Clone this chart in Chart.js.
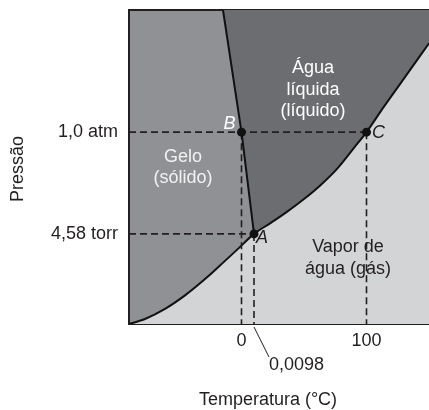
<!DOCTYPE html>
<html>
<head>
<meta charset="utf-8">
<script src="https://cdn.jsdelivr.net/npm/chart.js@4"></script>
<style>
  html, body { margin: 0; padding: 0; background: #fff; }
  #wrap { width: 429px; height: 410px; }
</style>
</head>
<body>
<div id="wrap"><canvas id="myChart"></canvas></div>
<script>
// schematic phase diagram of water - the axes are not to scale
var tempMin = -90, tempMax = 150;
var pressMin = 0, pressMax = 100;

var tempTicks = [0, 100];
var tempLabels = ['0', '100'];
var pressTicks = [28.7, 61.1];
var pressLabels = ['4,58 torr', '1,0 atm'];

var pointNames = ['A', 'B', 'C'];
var pointTemp = [10, 0, 100];
var pointPress = [28.7, 61.1, 61.1];
var triplePointLabel = '0,0098';

// solid / liquid boundary
var fusionTemp = [-14.8, 0, 10];
var fusionPress = [100, 61.1, 28.7];

// solid / vapour boundary
var sublimationTemp = [-90, -77.2, -61.2, -45.2, -29.2, -13.2, -2.6, 10];
var sublimationPress = [0, 1.6, 4.8, 9.1, 14.3, 20.1, 24.0, 28.7];

// liquid / vapour boundary
var vaporTemp = [10, 23.4, 36.6, 50, 63.4, 76.6, 90, 100, 113.4, 126.8, 150];
var vaporPress = [28.7, 32.2, 35.8, 39.8, 44.3, 49.5, 56.1, 61.1, 68.9, 76.4, 89.4];

var regionNames = [['Água', 'líquida', '(líquido)'], ['Gelo', '(sólido)'], ['Vapor de', 'água (gás)']];
var regionTemp = [57.2, -46.8, 85.2];
var regionPress = [81.5, 53.2, 24.5];

var SOLID = '#909195', LIQUID = '#6c6d71', VAPOR = '#d3d4d6', INK = '#231f20';
var FONT = '"Liberation Sans", Arial, sans-serif';

function toPoints(xs, ys) {
  return xs.map(function(x, i) { return { x: x, y: ys[i] }; });
}

var curveTemp = sublimationTemp.concat(vaporTemp.slice(1));
var curvePress = sublimationPress.concat(vaporPress.slice(1));

var dashed = [
  [{ x: tempMin, y: pointPress[1] }, { x: pointTemp[2], y: pointPress[2] }],
  [{ x: tempMin, y: pointPress[0] }, { x: pointTemp[0], y: pointPress[0] }]
];
pointTemp.forEach(function(t, i) {
  dashed.push([{ x: t, y: pointPress[i] }, { x: t, y: pressMin }]);
});

var datasets = [
  { data: toPoints(fusionTemp, fusionPress), fill: 'end', backgroundColor: LIQUID, borderWidth: 0, pointRadius: 0, order: 20 },
  { data: toPoints(vaporTemp, vaporPress), fill: 'end', backgroundColor: LIQUID, borderWidth: 0, pointRadius: 0, cubicInterpolationMode: 'monotone', order: 19 },
  { data: toPoints(curveTemp, curvePress), fill: 'start', backgroundColor: VAPOR, borderColor: '#111', borderWidth: 2, pointRadius: 0, cubicInterpolationMode: 'monotone', order: 18 }
];
dashed.forEach(function(d) {
  datasets.push({ data: d, fill: false, borderColor: INK, borderWidth: 1.6, borderDash: [7, 4], pointRadius: 0, order: 10 });
});
datasets.push({ data: toPoints(fusionTemp, fusionPress), fill: false, borderColor: '#111', borderWidth: 2, pointRadius: 0, order: 5 });
datasets.push({ data: toPoints(pointTemp, pointPress), showLine: false, pointRadius: 4.5, pointBackgroundColor: '#111', pointBorderWidth: 0, order: 1 });

function noPadding(s) {
  s.paddingTop = 0; s.paddingBottom = 0; s.paddingLeft = 0; s.paddingRight = 0;
}

var phasePlugin = {
  id: 'phase',
  beforeDraw: function(chart) {
    var a = chart.chartArea, ctx = chart.ctx;
    ctx.save();
    ctx.fillStyle = SOLID;
    ctx.fillRect(a.left, a.top, a.right - a.left, a.bottom - a.top);
    ctx.restore();
  },
  afterDatasetsDraw: function(chart) {
    var ctx = chart.ctx, xs = chart.scales.x, ys = chart.scales.y, a = chart.chartArea;
    ctx.save();
    ctx.font = '18px ' + FONT;
    ctx.textAlign = 'center';
    ctx.textBaseline = 'middle';
    var colors = ['#ffffff', '#f2f2f2', INK];
    regionNames.forEach(function(lines, i) {
      var px = xs.getPixelForValue(regionTemp[i]);
      var py = ys.getPixelForValue(regionPress[i]);
      ctx.fillStyle = colors[i];
      lines.forEach(function(t, j) { ctx.fillText(t, px, py + j * 21.5); });
    });

    // point letters
    ctx.font = 'italic 18px ' + FONT;
    var offs = [[8, 4], [-12, -8], [12, 1]];
    var letterColors = [INK, '#ffffff', INK];
    pointNames.forEach(function(n, i) {
      ctx.fillStyle = letterColors[i];
      ctx.fillText(n, xs.getPixelForValue(pointTemp[i]) + offs[i][0], ys.getPixelForValue(pointPress[i]) + offs[i][1]);
    });

    // triple point temperature with leader line
    var ax = xs.getPixelForValue(pointTemp[0]);
    ctx.strokeStyle = INK;
    ctx.lineWidth = 1;
    ctx.beginPath();
    ctx.moveTo(ax, a.bottom + 3);
    ctx.lineTo(ax + 15, a.bottom + 33);
    ctx.stroke();
    ctx.font = '18px ' + FONT;
    ctx.fillStyle = INK;
    ctx.textAlign = 'left';
    ctx.fillText(triplePointLabel, ax + 15, a.bottom + 41);

    // axis titles
    ctx.textAlign = 'center';
    ctx.fillText('Temperatura (°C)', 268, 400);
    ctx.translate(18, 169);
    ctx.rotate(-Math.PI / 2);
    ctx.fillText('Pressão', 0, 0);
    ctx.restore();
  }
};

new Chart(document.getElementById('myChart'), {
  type: 'line',
  data: { datasets: datasets },
  plugins: [phasePlugin],
  options: {
    responsive: true,
    maintainAspectRatio: false,
    animation: false,
    layout: { autoPadding: false, padding: { top: 10, left: 0, right: 0, bottom: 0 } },
    plugins: { legend: { display: false }, tooltip: { enabled: false } },
    scales: {
      x: {
        type: 'linear', min: tempMin, max: tempMax, z: 1,
        grid: { display: false, drawTicks: false },
        border: { display: true, color: INK, width: 2 },
        afterBuildTicks: function(s) { s.ticks = tempTicks.map(function(v) { return { value: v }; }); },
        afterFit: function(s) { s.height = 86; noPadding(s); },
        ticks: {
          padding: 6, color: INK, font: { family: FONT, size: 18 },
          callback: function(v) { return tempLabels[tempTicks.indexOf(v)]; }
        }
      },
      xTop: {
        type: 'linear', position: 'top', min: tempMin, max: tempMax, z: 1,
        grid: { display: false, drawTicks: false },
        border: { display: true, color: INK, width: 2 },
        ticks: { display: false },
        afterFit: function(s) { s.height = 0; noPadding(s); }
      },
      y: {
        type: 'linear', min: pressMin, max: pressMax, z: 1,
        grid: { display: false, drawTicks: false },
        border: { display: true, color: INK, width: 2 },
        afterBuildTicks: function(s) { s.ticks = pressTicks.map(function(v) { return { value: v }; }); },
        afterFit: function(s) { s.width = 129; noPadding(s); },
        ticks: {
          padding: 11, color: INK, font: { family: FONT, size: 18 },
          callback: function(v) { return pressLabels[pressTicks.indexOf(v)]; }
        }
      }
    }
  }
});
</script>
</body>
</html>
